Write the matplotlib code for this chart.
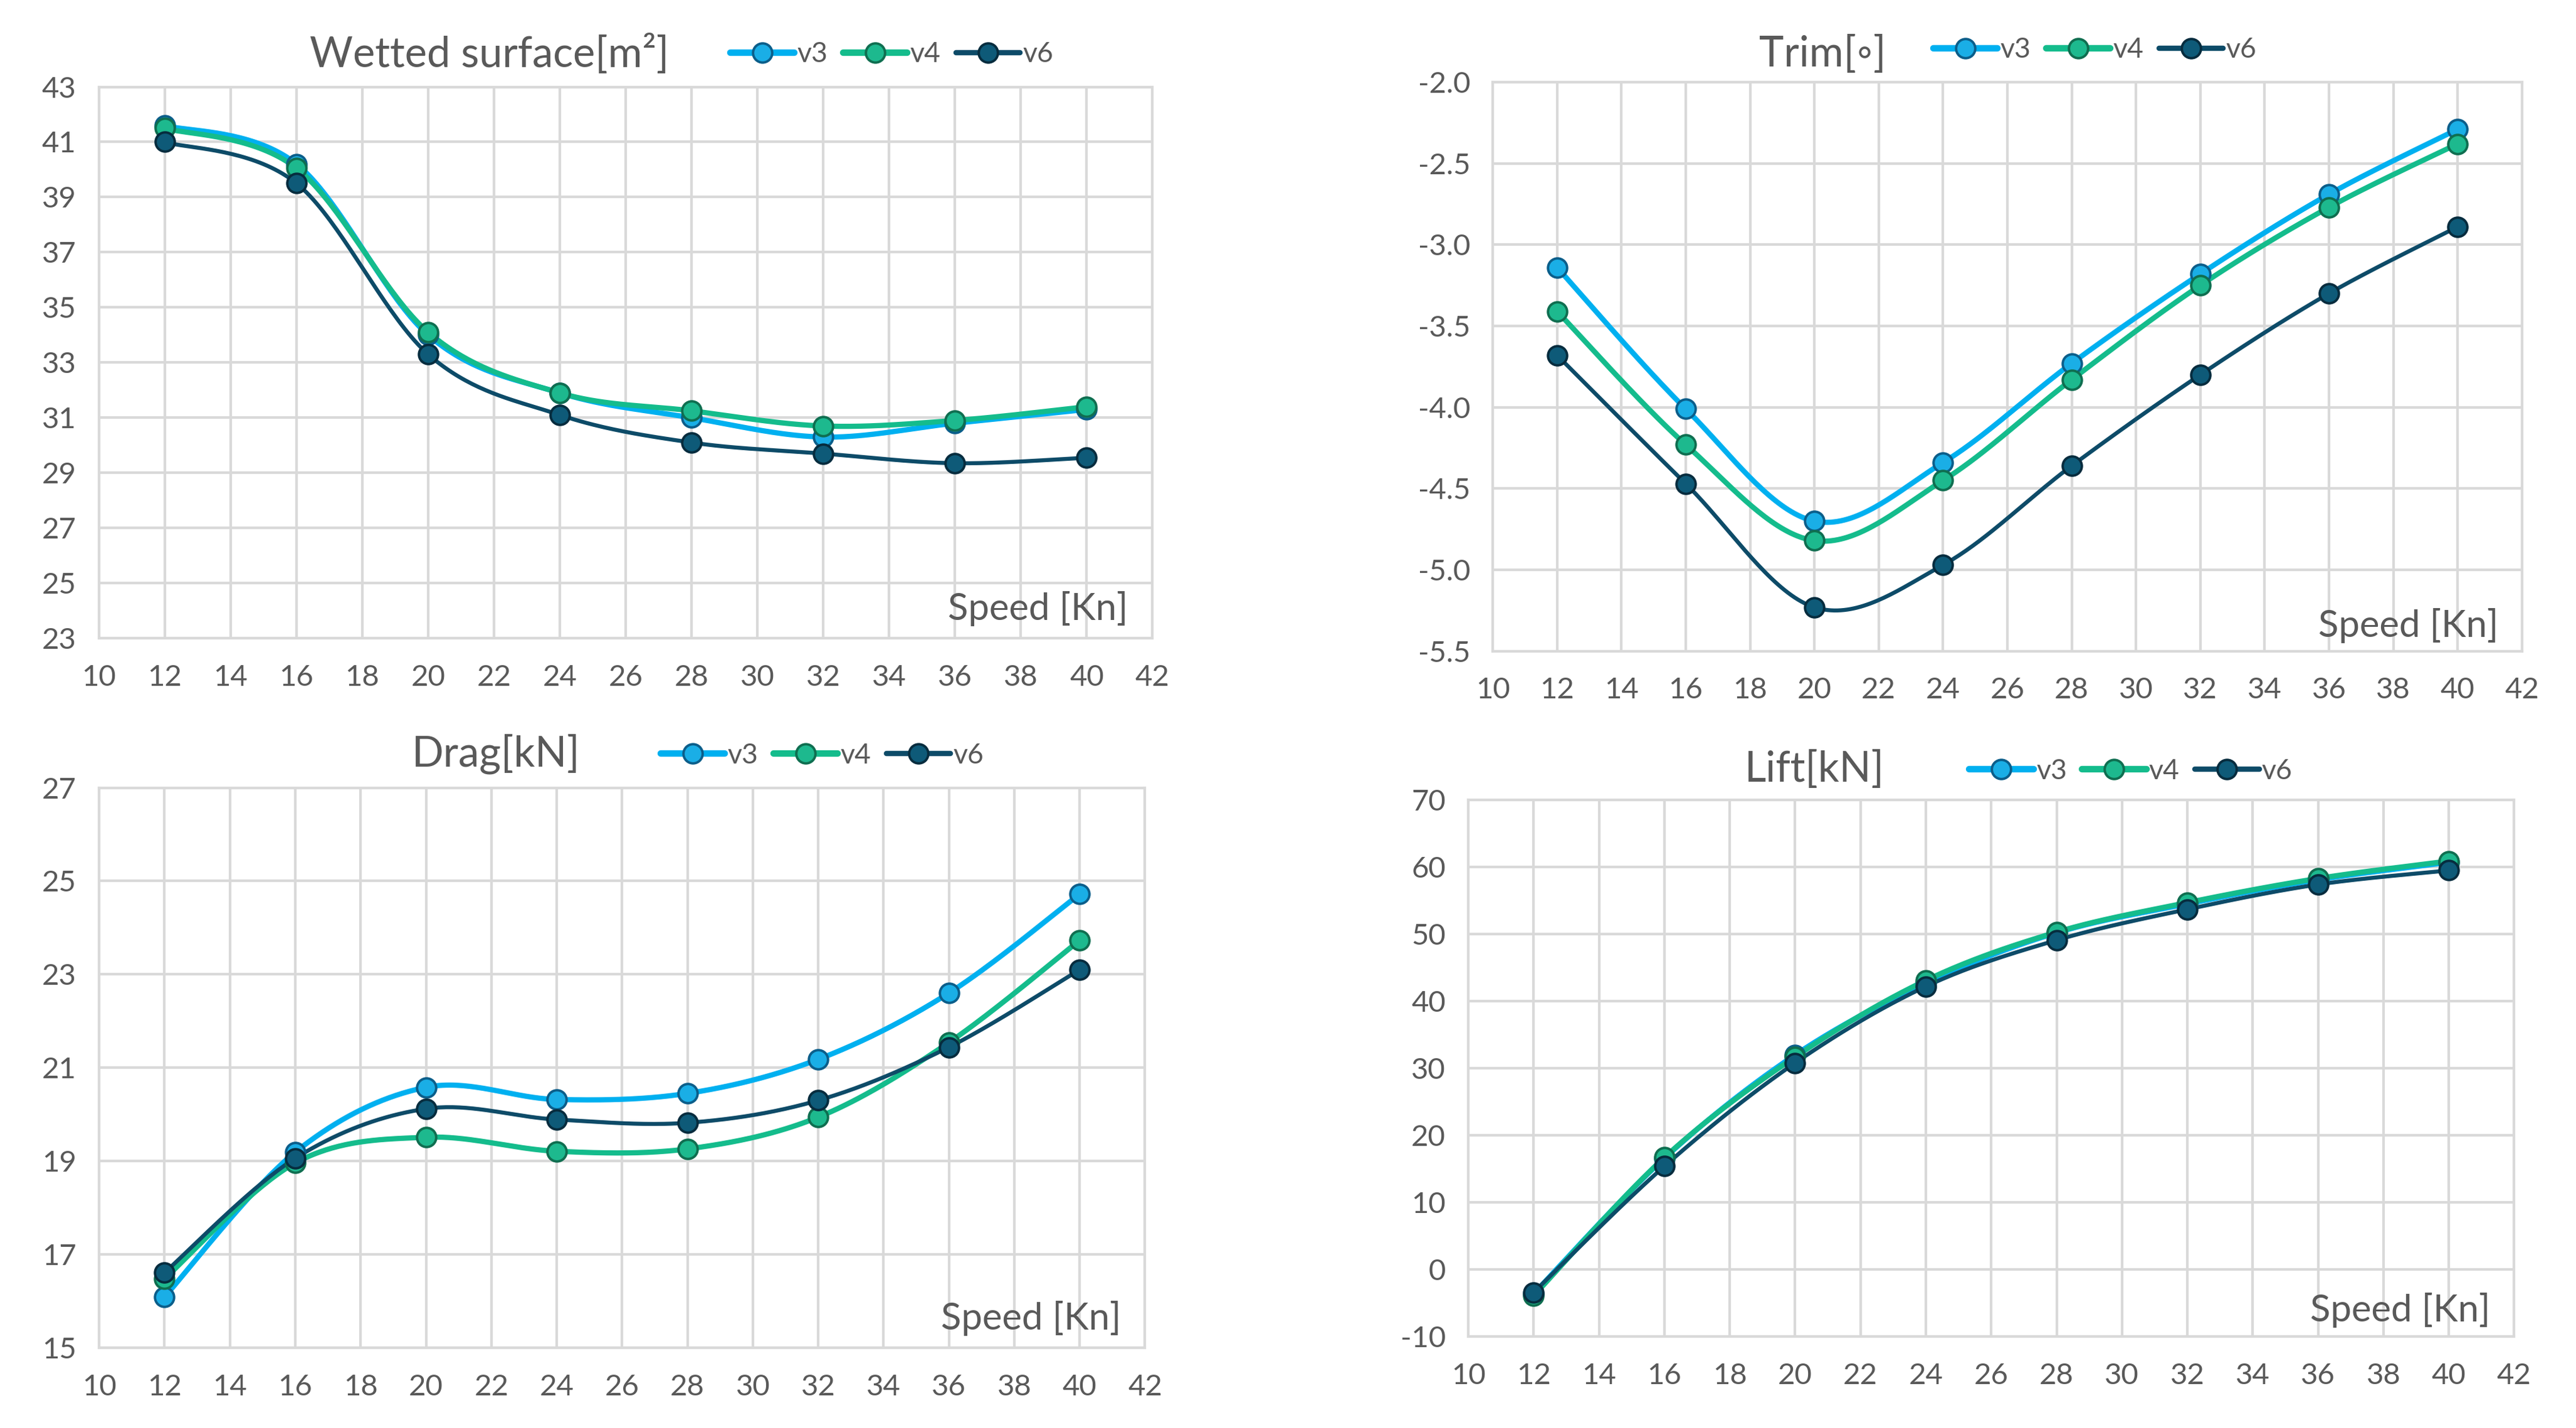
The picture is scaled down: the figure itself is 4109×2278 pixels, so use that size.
import numpy as np
import matplotlib
matplotlib.use("Agg")
import matplotlib.pyplot as plt
from matplotlib.lines import Line2D

plt.rcParams['font.family'] = ['Lato', 'DejaVu Sans']

speed = [12, 16, 20, 24, 28, 32, 36, 40]
series_names = ['v3', 'v4', 'v6']

wetted_v3 = [41.6, 40.2, 34.0, 31.9, 31.0, 30.3, 30.8, 31.3]
wetted_v4 = [41.5, 40.05, 34.1, 31.9, 31.25, 30.7, 30.9, 31.4]
wetted_v6 = [41.0, 39.5, 33.3, 31.1, 30.1, 29.7, 29.35, 29.55]

trim_v3 = [-3.14, -4.01, -4.70, -4.34, -3.73, -3.18, -2.69, -2.29]
trim_v4 = [-3.41, -4.23, -4.82, -4.45, -3.83, -3.25, -2.77, -2.38]
trim_v6 = [-3.68, -4.47, -5.23, -4.97, -4.36, -3.80, -3.30, -2.89]

drag_v3 = [16.09, 19.19, 20.58, 20.32, 20.45, 21.18, 22.6, 24.72]
drag_v4 = [16.48, 18.96, 19.51, 19.21, 19.26, 19.94, 21.54, 23.73]
drag_v6 = [16.61, 19.06, 20.12, 19.89, 19.82, 20.30, 21.44, 23.10]

lift_v3 = [-3.6, 16.6, 32.0, 42.7, 50.2, 54.5, 58.1, 60.7]
lift_v4 = [-3.9, 16.7, 31.7, 43.1, 50.3, 54.7, 58.3, 60.9]
lift_v6 = [-3.4, 15.4, 30.8, 42.2, 49.1, 53.7, 57.4, 59.5]

x_ticks = list(range(10, 44, 2))
wetted_ticks = list(range(23, 45, 2))
trim_ticks = [-5.5, -5.0, -4.5, -4.0, -3.5, -3.0, -2.5, -2.0]
drag_ticks = list(range(15, 29, 2))
lift_ticks = list(range(-10, 80, 10))

line_colors = ['#00B0F0', '#14BC8C', '#0D4B68']
fill_colors = ['#1AAEE6', '#1DB98E', '#0E5A78']
edge_colors = ['#0B5E8A', '#0F6E50', '#062C3E']
line_widths = [6.0, 6.0, 4.6]

TXT = '#595959'
GRID = '#D9D9D9'


def smooth(xs, ys, n=40):
    """Excel-style smoothed line (cubic Bezier, Catmull-Rom tangents / 6)."""
    xs = np.asarray(xs, float)
    ys = np.asarray(ys, float)
    P = np.column_stack([xs, ys])
    out = []
    t = np.linspace(0, 1, n)[:, None]
    for i in range(len(P) - 1):
        p0 = P[i - 1] if i > 0 else P[i]
        p1 = P[i]
        p2 = P[i + 1]
        p3 = P[i + 2] if i + 2 < len(P) else P[i + 1]
        c1 = p1 + (p2 - p0) / 6.0
        c2 = p2 - (p3 - p1) / 6.0
        seg = ((1 - t) ** 3) * p1 + 3 * ((1 - t) ** 2) * t * c1 + 3 * (1 - t) * t ** 2 * c2 + t ** 3 * p2
        out.append(seg if i == 0 else seg[1:])
    out = np.vstack(out)
    return out[:, 0], out[:, 1]


fig = plt.figure(figsize=(41.09, 22.78), dpi=100)

panels = [
    dict(rect=[0.0384, 0.5530, 0.4090, 0.3862], data=[wetted_v3, wetted_v4, wetted_v6],
         ticks=wetted_ticks, ylim=(23, 43), fmt='{:.0f}', title='Wetted surface[m²]',
         title_xy=(0.190, 0.962), leg_xy=(0.2835, 0.962), sp_y=0.054),
    dict(rect=[0.5795, 0.5440, 0.3995, 0.3985], data=[trim_v3, trim_v4, trim_v6],
         ticks=trim_ticks, ylim=(-5.5, -2.0), fmt='{:.1f}', title='Trim[◦]',
         title_xy=(0.7075, 0.962), leg_xy=(0.7505, 0.965), sp_y=0.045),
    dict(rect=[0.0385, 0.0562, 0.4060, 0.3922], data=[drag_v3, drag_v4, drag_v6],
         ticks=drag_ticks, ylim=(15, 27), fmt='{:.0f}', title='Drag[kN]',
         title_xy=(0.1925, 0.472), leg_xy=(0.2565, 0.471), sp_y=0.053),
    dict(rect=[0.5700, 0.0640, 0.4060, 0.3758], data=[lift_v3, lift_v4, lift_v6],
         ticks=lift_ticks, ylim=(-10, 70), fmt='{:.0f}', title='Lift[kN]',
         title_xy=(0.7045, 0.461), leg_xy=(0.7645, 0.460), sp_y=0.049),
]

for p in panels:
    ax = fig.add_axes(p['rect'])
    ax.set_xlim(10, 42)
    ax.set_ylim(*p['ylim'])
    ax.set_xticks(x_ticks)
    ax.set_yticks(p['ticks'])
    ax.set_yticklabels([p['fmt'].format(v) for v in p['ticks']])
    ax.grid(True, color=GRID, linewidth=3.0, zorder=0)
    ax.set_axisbelow(True)
    for s in ax.spines.values():
        s.set_color(GRID)
        s.set_linewidth(3.0)
    ax.tick_params(axis='both', length=0, labelsize=34, labelcolor=TXT)
    ax.tick_params(axis='y', pad=26)
    ax.tick_params(axis='x', pad=30)
    handles = []
    for k, ys in enumerate(p['data']):
        sx, sy = smooth(speed, ys)
        ax.plot(sx, sy, color=line_colors[k], lw=line_widths[k], solid_capstyle='round', zorder=3 + k)
        ax.plot(speed, ys, linestyle='none', marker='o', markersize=22,
                markerfacecolor=fill_colors[k], markeredgecolor=edge_colors[k],
                markeredgewidth=2.8, zorder=6 + k)
        handles.append(Line2D([0], [0], color=line_colors[k], lw=line_widths[k] + 1.5, marker='o',
                              markersize=22, markerfacecolor=fill_colors[k],
                              markeredgecolor=edge_colors[k], markeredgewidth=2.8,
                              solid_capstyle='round'))
    ax.text(0.977, p['sp_y'], 'Speed [Kn]', transform=ax.transAxes, ha='right', va='center',
            fontsize=43, color=TXT)
    fig.text(p['title_xy'][0], p['title_xy'][1], p['title'], ha='center', va='center',
             fontsize=48, color=TXT)
    fig.legend(handles, series_names, loc='center left', bbox_to_anchor=p['leg_xy'],
               bbox_transform=fig.transFigure, ncol=3, frameon=False, fontsize=32,
               labelcolor=TXT, handlelength=2.3, handletextpad=0.1, columnspacing=0.55,
               borderaxespad=0, borderpad=0)

fig.savefig('out.png', dpi=100, facecolor='white')
